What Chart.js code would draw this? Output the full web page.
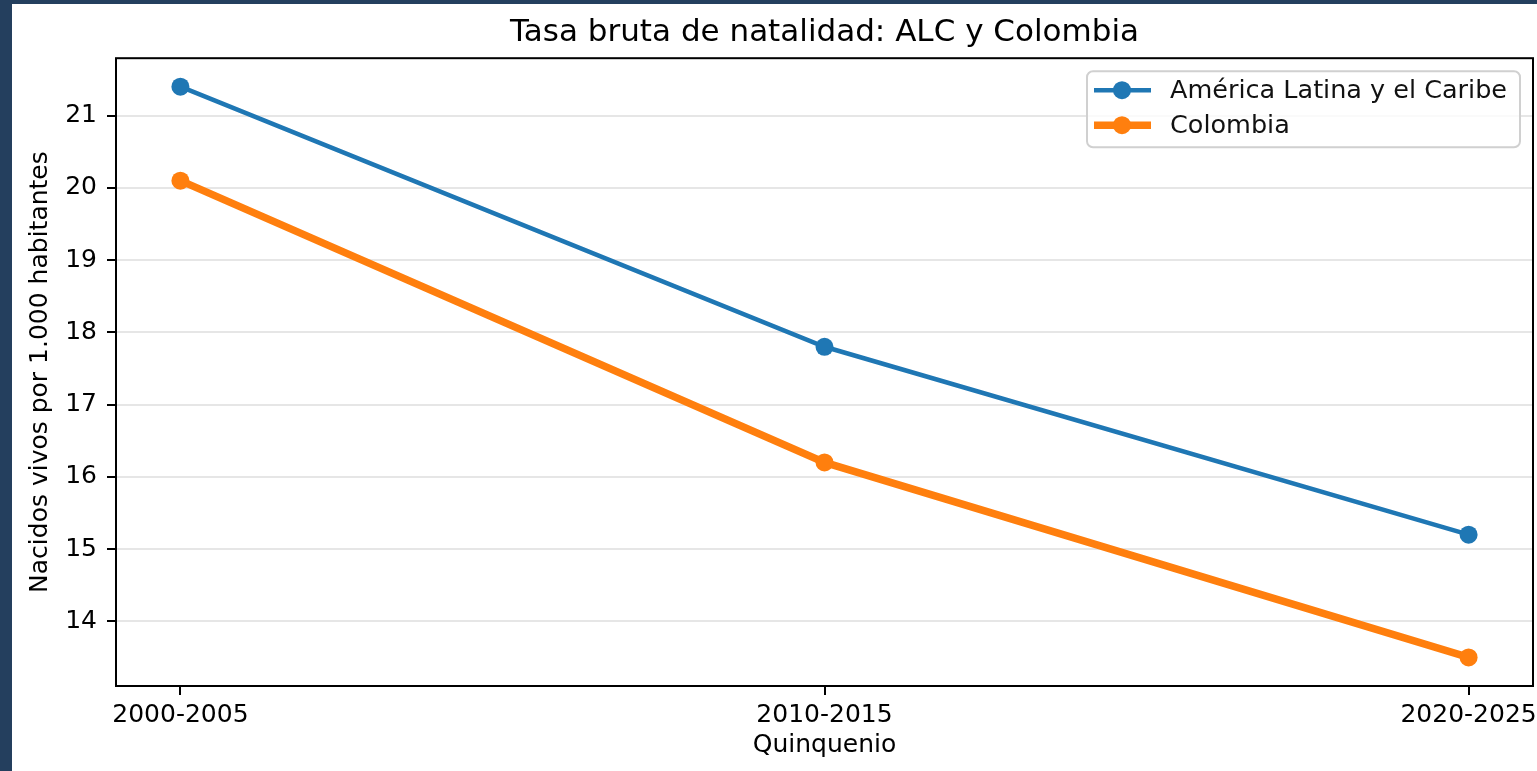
<!DOCTYPE html>
<html lang="es">
<head>
<meta charset="utf-8">
<title>Tasa bruta de natalidad: ALC y Colombia</title>
<script src="https://cdn.jsdelivr.net/npm/chart.js@4/dist/chart.umd.min.js"></script>
<style>
  html, body { margin: 0; padding: 0; background: #243f5e; overflow: hidden; }
  #wrap { position: absolute; left: 12px; top: 4px; width: 1530px; height: 767px; background: #ffffff; }
</style>
</head>
<body>
<div id="wrap"><canvas id="chart"></canvas></div>
<script>
  'use strict';

  // Datos
  var PERIODS = ['2000-2005', '2010-2015', '2020-2025'];
  var ALC_VALUES = [21.4, 17.8, 15.2];
  var COLOMBIA_VALUES = [20.1, 16.2, 13.5];
  var Y_TICKS = [14, 15, 16, 17, 18, 19, 20, 21];
  var SERIES_NAMES = ['América Latina y el Caribe', 'Colombia'];

  var BLUE = '#1f77b4';
  var ORANGE = '#ff7f0e';
  var FONT = "'DejaVu Sans', sans-serif";

  Chart.defaults.font.family = FONT;
  Chart.defaults.color = '#000';

  function toPoints(values) {
    return values.map(function (v, i) { return { x: i, y: v }; });
  }

  // matplotlib-like frame + outward tick marks
  var framePlugin = {
    id: 'frame',
    afterDraw: function (chart) {
      var ctx = chart.ctx;
      var area = chart.chartArea;
      var xs = chart.scales.x;
      var ys = chart.scales.y;
      var len = 9;
      ctx.save();
      ctx.strokeStyle = '#000';
      ctx.lineWidth = 2;
      ctx.beginPath();
      ys.ticks.forEach(function (t) {
        var py = Math.round(ys.getPixelForValue(t.value));
        ctx.moveTo(area.left - len, py);
        ctx.lineTo(area.left, py);
      });
      xs.ticks.forEach(function (t) {
        var px = Math.round(xs.getPixelForValue(t.value));
        ctx.moveTo(px, area.bottom);
        ctx.lineTo(px, area.bottom + len);
      });
      ctx.stroke();
      ctx.strokeRect(area.left, area.top, area.right - area.left, area.bottom - area.top);
      ctx.restore();
    }
  };

  // legend drawn in the upper right corner inside the axes
  var legendPlugin = {
    id: 'mplLegend',
    afterDraw: function (chart) {
      var ctx = chart.ctx;
      var area = chart.chartArea;
      var w = 433, h = 76;
      var x0 = area.right - 13 - w;
      var y0 = area.top + 13;
      ctx.save();
      ctx.fillStyle = 'rgba(255,255,255,0.8)';
      ctx.strokeStyle = '#d0d0d0';
      ctx.lineWidth = 2;
      ctx.beginPath();
      ctx.roundRect(x0, y0, w, h, 6);
      ctx.fill();
      ctx.stroke();
      ctx.font = '25.5px ' + FONT;
      ctx.textBaseline = 'middle';
      ctx.textAlign = 'left';
      chart.data.datasets.forEach(function (ds, i) {
        var cy = y0 + 19 + i * 35;
        ctx.strokeStyle = ds.borderColor;
        ctx.lineWidth = ds.borderWidth;
        ctx.beginPath();
        ctx.moveTo(x0 + 7, cy);
        ctx.lineTo(x0 + 64, cy);
        ctx.stroke();
        ctx.fillStyle = ds.borderColor;
        ctx.beginPath();
        ctx.arc(x0 + 35, cy, ds.pointRadius, 0, Math.PI * 2);
        ctx.fill();
        ctx.fillStyle = '#111';
        ctx.fillText(ds.label, x0 + 83, cy + 1);
      });
      ctx.restore();
    }
  };

  new Chart(document.getElementById('chart'), {
    type: 'line',
    data: {
      datasets: [
        {
          label: SERIES_NAMES[0],
          data: toPoints(ALC_VALUES),
          borderColor: BLUE,
          backgroundColor: BLUE,
          borderWidth: 4.6,
          pointRadius: 9,
          pointBorderWidth: 0,
          pointBackgroundColor: BLUE,
          tension: 0,
          fill: false
        },
        {
          label: SERIES_NAMES[1],
          data: toPoints(COLOMBIA_VALUES),
          borderColor: ORANGE,
          backgroundColor: ORANGE,
          borderWidth: 7.5,
          pointRadius: 9,
          pointBorderWidth: 0,
          pointBackgroundColor: ORANGE,
          tension: 0,
          fill: false
        }
      ]
    },
    options: {
      responsive: true,
      maintainAspectRatio: false,
      animation: false,
      events: [],
      layout: { padding: { left: 0, right: 0, top: 0, bottom: 0 } },
      plugins: {
        legend: { display: false },
        tooltip: { enabled: false },
        title: {
          display: true,
          fullSize: false,
          text: 'Tasa bruta de natalidad: ALC y Colombia',
          color: '#000',
          font: { size: 31, weight: 'normal', family: FONT, lineHeight: 1.2 },
          padding: { top: 10, bottom: 7 }
        }
      },
      scales: {
        x: {
          type: 'linear',
          min: -0.1,
          max: 2.1,
          afterBuildTicks: function (scale) {
            scale.ticks = PERIODS.map(function (p, i) { return { value: i }; });
          },
          afterFit: function (scale) {
            scale.height = 85;
            scale.paddingLeft = 0;
            scale.paddingRight = 0;
          },
          grid: { display: false, drawTicks: false },
          border: { display: false },
          ticks: {
            padding: 14,
            maxRotation: 0,
            font: { size: 25 },
            color: '#000',
            callback: function (value) { return PERIODS[value]; }
          },
          title: {
            display: true,
            text: 'Quinquenio',
            color: '#000',
            font: { size: 25 },
            padding: { top: 0, bottom: 11 }
          }
        },
        y: {
          min: 13.105,
          max: 21.795,
          afterBuildTicks: function (scale) {
            scale.ticks = Y_TICKS.map(function (v) { return { value: v }; });
          },
          afterFit: function (scale) {
            scale.width = 104;
            scale.paddingTop = 0;
            scale.paddingBottom = 0;
          },
          grid: { color: '#e6e6e6', lineWidth: 2, drawTicks: false },
          border: { display: false },
          ticks: {
            padding: 19,
            font: { size: 25 },
            color: '#000'
          },
          title: {
            display: true,
            text: 'Nacidos vivos por 1.000 habitantes',
            color: '#000',
            font: { size: 25 },
            padding: { top: 13, bottom: 0 }
          }
        }
      }
    },
    plugins: [framePlugin, legendPlugin]
  });
</script>
</body>
</html>
